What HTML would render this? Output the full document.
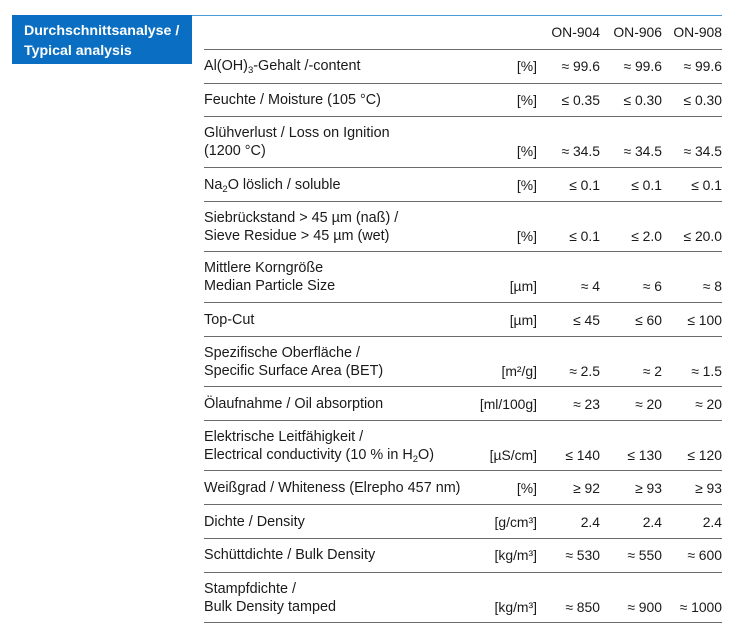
<!DOCTYPE html>
<html><head><meta charset="utf-8"><style>
body{margin:0;width:747px;height:636px;background:#fff;position:relative;overflow:hidden;font-family:"Liberation Sans",Arial,sans-serif;color:#1a1a1a;font-size:14.4px}
.a{position:absolute;white-space:nowrap;line-height:18px}
.r{text-align:right;font-size:13.9px}
.l{position:absolute;left:204px;width:518px;height:0;border-top:1.5px solid #6a6a6a}
sub{font-size:9.5px;vertical-align:-3px;line-height:0}
sup{font-size:9.5px;vertical-align:4px;line-height:0}
</style></head><body>
<div style="position:absolute;left:12px;top:15px;width:180px;height:49px;background:#0a6fc2"></div>
<div class="a" style="left:24px;top:21px;color:#fff;font-weight:bold;font-size:14.2px;line-height:20px">Durchschnittsanalyse /<br>Typical analysis</div>
<div style="position:absolute;left:192px;top:15px;width:530px;border-top:1.5px solid #4a9ad8"></div>
<div class="a r" style="right:147px;top:23px">ON-904</div>
<div class="a r" style="right:85px;top:23px">ON-906</div>
<div class="a r" style="right:25px;top:23px">ON-908</div>
<div class="l" style="top:49px"></div><div class="l" style="top:83px"></div><div class="l" style="top:116px"></div><div class="l" style="top:167px"></div><div class="l" style="top:201px"></div><div class="l" style="top:251px"></div><div class="l" style="top:302px"></div><div class="l" style="top:336px"></div><div class="l" style="top:386px"></div><div class="l" style="top:420px"></div><div class="l" style="top:470px"></div><div class="l" style="top:504px"></div><div class="l" style="top:538px"></div><div class="l" style="top:572px"></div><div class="l" style="top:622px"></div>

<div class="a" style="left:204px;top:57px">Al(OH)<sub>3</sub>-Gehalt /-content</div>
<div class="a r" style="right:210px;top:57px">[%]</div><div class="a r" style="right:147px;top:57px">≈ 99.6</div><div class="a r" style="right:85px;top:57px">≈ 99.6</div><div class="a r" style="right:25px;top:57px">≈ 99.6</div>

<div class="a" style="left:204px;top:91px">Feuchte / Moisture (105 °C)</div>
<div class="a r" style="right:210px;top:91px">[%]</div><div class="a r" style="right:147px;top:91px">≤ 0.35</div><div class="a r" style="right:85px;top:91px">≤ 0.30</div><div class="a r" style="right:25px;top:91px">≤ 0.30</div>

<div class="a" style="left:204px;top:124px">Glühverlust / Loss on Ignition<br>(1200 °C)</div>
<div class="a r" style="right:210px;top:142px">[%]</div><div class="a r" style="right:147px;top:142px">≈ 34.5</div><div class="a r" style="right:85px;top:142px">≈ 34.5</div><div class="a r" style="right:25px;top:142px">≈ 34.5</div>

<div class="a" style="left:204px;top:176px">Na<sub>2</sub>O löslich / soluble</div>
<div class="a r" style="right:210px;top:176px">[%]</div><div class="a r" style="right:147px;top:176px">≤ 0.1</div><div class="a r" style="right:85px;top:176px">≤ 0.1</div><div class="a r" style="right:25px;top:176px">≤ 0.1</div>

<div class="a" style="left:204px;top:209px">Siebrückstand &gt; 45 µm (naß) /<br>Sieve Residue &gt; 45 µm (wet)</div>
<div class="a r" style="right:210px;top:227px">[%]</div><div class="a r" style="right:147px;top:227px">≤ 0.1</div><div class="a r" style="right:85px;top:227px">≤ 2.0</div><div class="a r" style="right:25px;top:227px">≤ 20.0</div>

<div class="a" style="left:204px;top:259px">Mittlere Korngröße<br>Median Particle Size</div>
<div class="a r" style="right:210px;top:277px">[µm]</div><div class="a r" style="right:147px;top:277px">≈ 4</div><div class="a r" style="right:85px;top:277px">≈ 6</div><div class="a r" style="right:25px;top:277px">≈ 8</div>

<div class="a" style="left:204px;top:311px">Top-Cut</div>
<div class="a r" style="right:210px;top:311px">[µm]</div><div class="a r" style="right:147px;top:311px">≤ 45</div><div class="a r" style="right:85px;top:311px">≤ 60</div><div class="a r" style="right:25px;top:311px">≤ 100</div>

<div class="a" style="left:204px;top:344px">Spezifische Oberfläche /<br>Specific Surface Area (BET)</div>
<div class="a r" style="right:210px;top:362px">[m²/g]</div><div class="a r" style="right:147px;top:362px">≈ 2.5</div><div class="a r" style="right:85px;top:362px">≈ 2</div><div class="a r" style="right:25px;top:362px">≈ 1.5</div>

<div class="a" style="left:204px;top:395px">Ölaufnahme / Oil absorption</div>
<div class="a r" style="right:210px;top:395px">[ml/100g]</div><div class="a r" style="right:147px;top:395px">≈ 23</div><div class="a r" style="right:85px;top:395px">≈ 20</div><div class="a r" style="right:25px;top:395px">≈ 20</div>

<div class="a" style="left:204px;top:428px">Elektrische Leitfähigkeit /<br>Electrical conductivity (10 % in H<sub>2</sub>O)</div>
<div class="a r" style="right:210px;top:446px">[µS/cm]</div><div class="a r" style="right:147px;top:446px">≤ 140</div><div class="a r" style="right:85px;top:446px">≤ 130</div><div class="a r" style="right:25px;top:446px">≤ 120</div>

<div class="a" style="left:204px;top:479px">Weißgrad / Whiteness (Elrepho 457 nm)</div>
<div class="a r" style="right:210px;top:479px">[%]</div><div class="a r" style="right:147px;top:479px">≥ 92</div><div class="a r" style="right:85px;top:479px">≥ 93</div><div class="a r" style="right:25px;top:479px">≥ 93</div>

<div class="a" style="left:204px;top:513px">Dichte / Density</div>
<div class="a r" style="right:210px;top:513px">[g/cm³]</div><div class="a r" style="right:147px;top:513px">2.4</div><div class="a r" style="right:85px;top:513px">2.4</div><div class="a r" style="right:25px;top:513px">2.4</div>

<div class="a" style="left:204px;top:546px">Schüttdichte / Bulk Density</div>
<div class="a r" style="right:210px;top:546px">[kg/m³]</div><div class="a r" style="right:147px;top:546px">≈ 530</div><div class="a r" style="right:85px;top:546px">≈ 550</div><div class="a r" style="right:25px;top:546px">≈ 600</div>

<div class="a" style="left:204px;top:580px">Stampfdichte /<br>Bulk Density tamped</div>
<div class="a r" style="right:210px;top:598px">[kg/m³]</div><div class="a r" style="right:147px;top:598px">≈ 850</div><div class="a r" style="right:85px;top:598px">≈ 900</div><div class="a r" style="right:25px;top:598px">≈ 1000</div>
</body></html>
